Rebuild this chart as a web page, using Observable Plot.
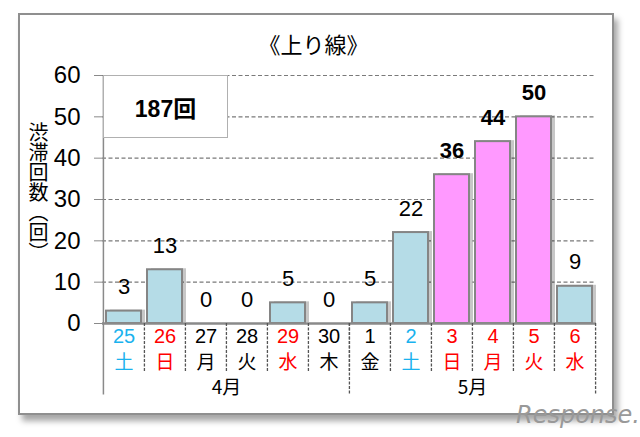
<!DOCTYPE html>
<html><head><meta charset="utf-8">
<script src="https://cdn.jsdelivr.net/npm/d3@7"></script>
<script src="https://cdn.jsdelivr.net/npm/@observablehq/plot@0.6"></script>
<style>
html,body{margin:0;padding:0;background:#fff;}
#wrap{position:relative;width:640px;height:437px;overflow:hidden;font-family:'Liberation Sans','Noto Sans CJK JP',sans-serif;}
#frame{position:absolute;left:18px;top:13px;width:596px;height:402px;box-sizing:border-box;border:2px solid #8f8f8f;background:#fff;box-shadow:4px 6px 6px rgba(0,0,0,0.35);}
#chart{position:absolute;left:0;top:0;}
#total{position:absolute;left:103px;top:75px;width:125px;height:63px;box-sizing:border-box;border:1.5px solid #b0b0b0;background:#fff;display:flex;align-items:center;justify-content:center;font-weight:bold;font-size:23px;color:#000;}
#logo{position:absolute;left:516px;top:401px;font-size:24px;color:#999;font-style:italic;font-family:'DejaVu Sans',sans-serif;}
</style></head>
<body><div id="wrap"><div id="frame"></div><div id="chart"></div><div id="total"></div><div id="logo">Response.</div></div>
<script>
const title = "《上り線》";
const yLabel = "渋滞回数（回）";
const total = "187回";
const days = ["25","26","27","28","29","30","1","2","3","4","5","6"];
const weekdays = ["土","日","月","火","水","木","金","土","日","月","火","水"];
const dayKinds = ["sat","hol","wk","wk","hol","wk","wk","sat","hol","hol","hol","hol"];
const counts = [3,13,0,0,5,0,5,22,36,44,50,9];
const barKinds = ["normal","normal","normal","normal","normal","normal","normal","normal","peak","peak","peak","normal"];
const months = ["4月","5月"];
const monthLengths = [6,6];
const yTicks = [0,10,20,30,40,50,60];

const dayColor = {sat:"#1ab2ee", hol:"#ff0000", wk:"#000000"};
const barColor = {normal:"#b5dce7", peak:"#ff99ff"};

const rows = days.map((d,i)=>({day:d, wd:weekdays[i], kind:dayKinds[i], v:counts[i], bar:barKinds[i]}));
let s = 0;
const monthRows = months.map((m,i)=>{const r={m, start:days[s], mid:days[s+monthLengths[i]/2]}; s+=monthLengths[i]; return r;});

const W=640,H=437, mL=102, mR=44, mT=75, mB=114;
const step = (W-mL-mR)/days.length;
const font = "'Liberation Sans','Noto Sans CJK JP',sans-serif";
const cjk = "'Noto Sans CJK JP',sans-serif";

const plot = Plot.plot({
  width:W, height:H, marginLeft:mL, marginRight:mR, marginTop:mT, marginBottom:mB,
  style:{background:"transparent", fontFamily:font, fontSize:"20px", color:"#000"},
  x:{domain:days, paddingInner:0.15, paddingOuter:0.075, align:0.5, axis:null},
  y:{domain:[0,60], axis:null},
  marks:[
    Plot.ruleY(yTicks.filter(t=>t>0), {stroke:"#7a7a7a", strokeWidth:1.2, strokeDasharray:"4,2.5"}),
    Plot.axisY({ticks:yTicks, tickSize:8, tickPadding:14, stroke:"#8a8a8a", fill:"#000", fontSize:24, label:null, tickFormat:d=>String(d)}),
    Plot.barY(rows, {x:"day", y:"v", fill:"#000", fillOpacity:0.22, dx:4, dy:-1}),
    Plot.barY(rows, {x:"day", y:"v", fill:d=>barColor[d.bar], stroke:"#858585", strokeWidth:2}),
    Plot.ruleY([0], {stroke:"#8a8a8a", strokeWidth:2.5}),
    Plot.ruleX(days.slice(1), {x:d=>d, dx:-step/2, y1:0, y2:-11.6, stroke:"#555", strokeWidth:1.3, strokeDasharray:"3,1.5"}),
    Plot.ruleX(monthRows.slice(1), {x:"start", dx:-step/2, y1:0, y2:-17.3, stroke:"#555", strokeWidth:1.3, strokeDasharray:"3,1.5"}),
    Plot.ruleX([days[0]], {x:d=>d, dx:-step/2, y1:-17.3, y2:60, stroke:"#8a8a8a", strokeWidth:1.5}),
    Plot.ruleX([days[days.length-1]], {x:d=>d, dx:step/2, y1:0, y2:-17.3, stroke:"#555", strokeWidth:1.3, strokeDasharray:"3,1.5"}),
    Plot.text(rows.filter(d=>d.bar!=="peak"), {x:"day", y:"v", text:d=>String(d.v), dy:-24, fontSize:22, fill:"#000"}),
    Plot.text(rows.filter(d=>d.bar==="peak"), {x:"day", y:"v", text:d=>String(d.v), dy:-24, fontSize:22, fontWeight:"bold", fill:"#000"}),
    Plot.text(rows, {x:"day", y:0, text:"day", dy:13, fontSize:20, fontFamily:font, fill:d=>dayColor[d.kind]}),
    Plot.text(rows, {x:"day", y:0, text:"wd", dy:39, fontSize:19, fontFamily:cjk, fill:d=>dayColor[d.kind]}),
    Plot.text(monthRows, {x:"mid", y:0, text:"m", dx:-step/2, dy:64, fontSize:19, fontFamily:cjk, fill:"#000"}),
    Plot.text([title], {frameAnchor:"top", lineAnchor:"middle", textAnchor:"middle", dx:-36, dy:-30, fontSize:22, fontFamily:cjk, fill:"#000"}),
    Plot.text([yLabel], {frameAnchor:"left", lineAnchor:"middle", textAnchor:"middle", dx:-64, dy:-14, fontSize:20, fontFamily:cjk, fill:"#000"})
  ]
});
d3.select(plot).selectAll("text").filter(function(){return this.textContent === yLabel;})
  .attr("writing-mode","vertical-rl").style("writing-mode","vertical-rl");
document.getElementById("chart").appendChild(plot);
document.getElementById("total").textContent = total;
</script></body></html>
